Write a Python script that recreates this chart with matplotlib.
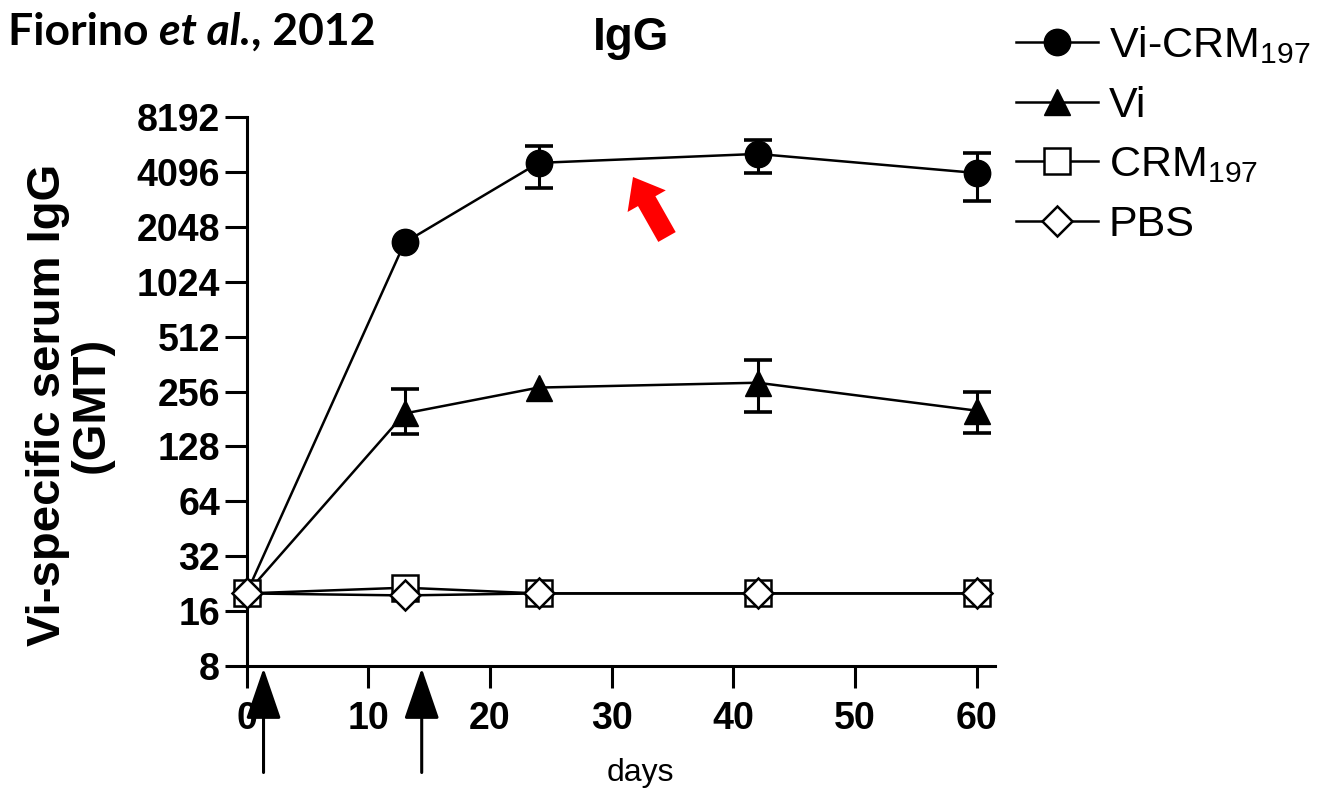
import matplotlib
matplotlib.use("Agg")
import matplotlib.pyplot as plt
from matplotlib.ticker import FixedLocator, NullLocator

plt.rcParams['font.family'] = ['Liberation Sans', 'DejaVu Sans']
plt.rcParams['mathtext.fontset'] = 'custom'
plt.rcParams['mathtext.rm'] = 'Liberation Sans'
plt.rcParams['mathtext.it'] = 'Liberation Sans:italic'
plt.rcParams['mathtext.bf'] = 'Liberation Sans:bold'

# data (GMT, log2 axis)
days = [0, 13, 24, 42, 60]
vi_crm = [20, 1680, 4590, 5140, 4040]
vi_crm_lo = [20, 1680, 3340, 4040, 2840]
vi_crm_hi = [20, 1680, 5680, 6130, 5210]
vi = [20, 194, 269, 286, 201]
vi_lo = [20, 149, 269, 197, 151]
vi_hi = [20, 265, 269, 383, 253]
crm = [20, 21.5, 20, 20, 20]
pbs = [20, 19.5, 20, 20, 20]
err_idx_crm = [2, 3, 4]
err_idx_vi = [1, 3, 4]

yticks = [8, 16, 32, 64, 128, 256, 512, 1024, 2048, 4096, 8192]
xticks = [0, 10, 20, 30, 40, 50, 60]
dose_days = [1.4, 14.4]
labels = ["Vi-CRM$_{197}$", "Vi", "CRM$_{197}$", "PBS"]

W, H = 1317, 788
fig = plt.figure(figsize=(W / 100, H / 100), dpi=100)
ax = fig.add_axes([246.5 / W, 1 - 666 / H, (994.8 - 246.5) / W, (666 - 117) / H])

lw = 1.8
l1, = ax.plot(days, vi_crm, '-o', color='black', lw=lw, ms=19, zorder=3, clip_on=False)
l2, = ax.plot(days, vi, '-^', color='black', lw=lw, ms=19, zorder=3, clip_on=False)
l3, = ax.plot(days, crm, '-s', color='black', mfc='white', mew=1.8, lw=lw, ms=19,
              zorder=4, clip_on=False)
l4, = ax.plot(days, pbs, '-D', color='black', mfc='white', mew=1.8, lw=lw, ms=15,
              zorder=5, clip_on=False)

for idx, m, lo, hi in [(err_idx_crm, vi_crm, vi_crm_lo, vi_crm_hi),
                       (err_idx_vi, vi, vi_lo, vi_hi)]:
    xs = [days[i] for i in idx]
    ys = [m[i] for i in idx]
    yerr = [[m[i] - lo[i] for i in idx], [hi[i] - m[i] for i in idx]]
    ax.errorbar(xs, ys, yerr=yerr, fmt='none', ecolor='black', elinewidth=2.2,
                capsize=10, capthick=2.6, zorder=2)

ax.set_yscale('log', base=2)
ax.set_ylim(8, 8192)
ax.set_xlim(0, 61.5)
ax.yaxis.set_major_locator(FixedLocator(yticks))
ax.yaxis.set_minor_locator(NullLocator())
ax.set_yticklabels([str(t) for t in yticks])
ax.set_xticks(xticks)
ax.set_xticklabels([str(t) for t in xticks])
for s in ['top', 'right']:
    ax.spines[s].set_visible(False)
for s in ['left', 'bottom']:
    ax.spines[s].set_linewidth(2.2)
ax.tick_params(axis='both', direction='out', length=16, width=2.2, labelsize=27)
ax.tick_params(axis='y', pad=3)
ax.tick_params(axis='x', pad=9)
for t in ax.get_xticklabels() + ax.get_yticklabels():
    t.set_fontweight('bold')

# immunisation arrows under the axis
trans = ax.get_xaxis_transform()
for d in dose_days:
    ax.annotate('', xy=(d, -0.004), xytext=(d, -0.194), xycoords=trans, textcoords=trans,
                annotation_clip=False,
                arrowprops=dict(arrowstyle='-|>,head_length=1.6,head_width=0.55',
                                mutation_scale=20, lw=2.2, color='black',
                                shrinkA=0, shrinkB=0))

# red highlight arrow
ax.annotate('', xy=(633, H - 177), xytext=(667, H - 237), xycoords='figure pixels',
            textcoords='figure pixels', annotation_clip=False,
            arrowprops=dict(arrowstyle='simple,head_length=1.0,head_width=1.58,tail_width=0.72',
                            mutation_scale=20, color='red', lw=0, shrinkA=0, shrinkB=0))

fig.text(631 / W, 1 - 50 / H, "IgG", fontsize=33, fontweight='bold', ha='center', va='baseline')
fig.text(640 / W, 1 - 781 / H, "days", fontsize=23, ha='center', va='baseline')
fig.text(70 / W, 1 - 405 / H, "Vi-specific serum IgG\n(GMT)", fontsize=34, fontweight='bold',
         rotation=90, ha='center', va='center', multialignment='center', linespacing=1.0)

# citation
cfont = dict(family='Lato', fontweight='bold', fontsize=32)
t1 = fig.text(8 / W, 1 - 52 / H, "Fiorino ", va='bottom', **cfont)
t2 = ax.annotate("et al.", xy=(1, 0), xycoords=t1, style='italic', va='bottom',
                 annotation_clip=False, **cfont)
t3 = ax.annotate(", 2012", xy=(1, 0), xycoords=t2, va='bottom', annotation_clip=False, **cfont)

fig.legend([l1, l2, l3, l4], labels, loc='upper left',
           bbox_to_anchor=(1016 / W, 1 - 24 / H), frameon=False, fontsize=31,
           handlelength=1.9, handletextpad=0.25, labelspacing=0.46, borderaxespad=0,
           borderpad=0, numpoints=1)

fig.savefig("out.png", dpi=100)
